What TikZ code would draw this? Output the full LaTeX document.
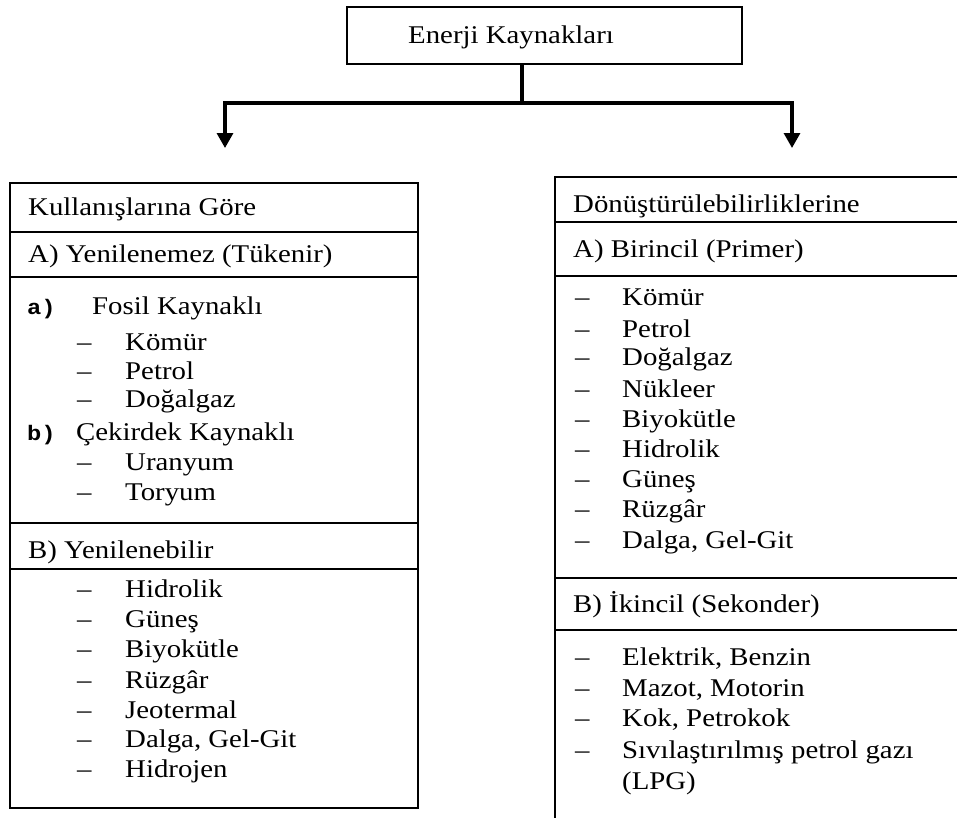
\documentclass[tikz,border=0pt]{standalone}
\usepackage{graphicx}
\usepackage{fontspec}
\setmainfont{Liberation Serif}
\newfontfamily\monob{Liberation Mono}
\newcommand{\sx}[1]{\scalebox{1.13}[1]{#1}}
\usetikzlibrary{arrows.meta}
\tikzset{
  txt/.style={anchor=base west, inner sep=0pt, font=\fontsize{25.5}{30}\selectfont},
  lbl/.style={anchor=base west, inner sep=0pt, font=\monob\bfseries\fontsize{21}{24}\selectfont},
  frame/.style={draw, line width=2.4pt, inner sep=0pt, anchor=north west},
  sepline/.style={line width=2pt},
  conn/.style={line width=3.2pt},
  arr/.style={conn, line join=miter, -{Triangle[width=16pt,length=15pt]}}
}
\begin{document}
\begin{tikzpicture}[x=1pt,y=-1pt]
\useasboundingbox (0,0) rectangle (957,817);
\clip (0,0) rectangle (957,817);
% top box
\node[frame, minimum width=395pt, minimum height=57pt] (top) at (346,6) {};
\node[txt] (toptxt) at (408,43) {\sx{Enerji Kaynakları}};
% connectors
\coordinate (j) at (522,103);
\coordinate (la) at (225,148);
\coordinate (ra) at (792,148);
\draw[conn] (j |- top.south) -- (j);
\draw[arr] (j) -| (la);
\draw[arr] (j) -| (ra);
% left box
\node[frame, minimum width=408pt, minimum height=625pt] (lbox) at (9,182) {};
\draw[sepline] (lbox.west |- 0,232) -- (lbox.east |- 0,232);
\draw[sepline] (lbox.west |- 0,277) -- (lbox.east |- 0,277);
\draw[sepline] (lbox.west |- 0,523) -- (lbox.east |- 0,523);
\draw[sepline] (lbox.west |- 0,569) -- (lbox.east |- 0,569);
\node[txt] (l1) at (28,215) {\sx{Kullanışlarına Göre}};
\node[txt] (l2) at (28,262) {\sx{A) Yenilenemez (Tükenir)}};
\node[lbl] (la1) at (27,314) {\sx{a)}};
\node[txt] (l3) at (92,314) {\sx{Fosil Kaynaklı}};
\foreach \y/\t [count=\i] in {350/Kömür, 379/Petrol, 407/Doğalgaz}{
  \node[txt] (ld\i) at (77,\y) {\sx{–}};
  \node[txt] (li\i) at (125,\y) {\sx{\t}};
}
\node[lbl] (lb1) at (27,440) {\sx{b)}};
\node[txt] (l4) at (76,440) {\sx{Çekirdek Kaynaklı}};
\foreach \y/\t [count=\i] in {470/Uranyum, 500/Toryum}{
  \node[txt] (lcd\i) at (77,\y) {\sx{–}};
  \node[txt] (lci\i) at (125,\y) {\sx{\t}};
}
\node[txt] (l5) at (28,558) {\sx{B) Yenilenebilir}};
\foreach \y/\t [count=\i] in {597/Hidrolik, 627/Güneş, 657/Biyokütle, 688/Rüzgâr, 718/Jeotermal, 747/{Dalga, Gel-Git}, 777/Hidrojen}{
  \node[txt] (lrd\i) at (77,\y) {\sx{–}};
  \node[txt] (lri\i) at (125,\y) {\sx{\t}};
}
% right box
\node[frame, minimum width=430pt, minimum height=680pt] (rbox) at (554,176) {};
\draw[sepline] (rbox.west |- 0,222) -- (rbox.east |- 0,222);
\draw[sepline] (rbox.west |- 0,276) -- (rbox.east |- 0,276);
\draw[sepline] (rbox.west |- 0,578) -- (rbox.east |- 0,578);
\draw[sepline] (rbox.west |- 0,630) -- (rbox.east |- 0,630);
\node[txt] (r1) at (573,212) {\sx{Dönüştürülebilirliklerine}};
\node[txt] (r2) at (573,257) {\sx{A) Birincil (Primer)}};
\foreach \y/\t [count=\i] in {305/Kömür, 337/Petrol, 365/Doğalgaz, 397/Nükleer, 427/Biyokütle, 457/Hidrolik, 487/Güneş, 517/Rüzgâr, 548/{Dalga, Gel-Git}}{
  \node[txt] (rd\i) at (575,\y) {\sx{–}};
  \node[txt] (ri\i) at (622,\y) {\sx{\t}};
}
\node[txt] (r3) at (573,612) {\sx{B) İkincil (Sekonder)}};
\foreach \y/\t [count=\i] in {665/{Elektrik, Benzin}, 696/{Mazot, Motorin}, 726/{Kok, Petrokok}, 758/{Sıvılaştırılmış petrol gazı}}{
  \node[txt] (rsd\i) at (575,\y) {\sx{–}};
  \node[txt] (rsi\i) at (622,\y) {\sx{\t}};
}
\node[txt] (rsi5) at (622,789) {\sx{(LPG)}};
\end{tikzpicture}
\end{document}
